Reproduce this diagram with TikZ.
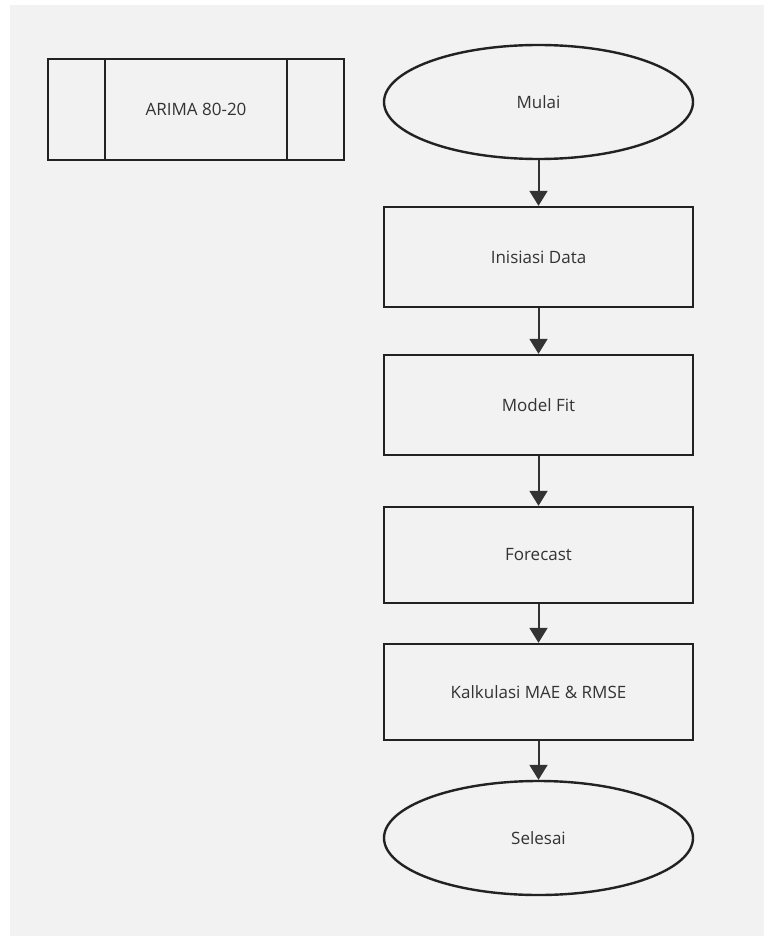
\documentclass[tikz,border=0pt]{standalone}
\usepackage{fontspec}
\setmainfont{Open Sans}
\usetikzlibrary{arrows.meta,shapes.geometric}
\definecolor{bggray}{HTML}{F2F2F2}
\definecolor{edgeblack}{HTML}{222222}
\definecolor{arrowgray}{HTML}{333333}
\tikzset{
    lab/.style={
        font=\fontsize{17}{20}\selectfont, text=arrowgray
    },
    terminal/.style={
        ellipse, draw=edgeblack, line width=2.4pt, lab,
        minimum width=309pt, minimum height=114pt, inner sep=0pt
    },
    procbox/.style={
        rectangle, draw=edgeblack, line width=2.4pt, lab,
        minimum width=309pt, inner sep=0pt
    },
    flow/.style={
        -{Triangle[width=18pt,length=15pt]}, draw=arrowgray, line width=2pt
    }
}

\begin{document}
\begin{tikzpicture}[x=1pt,y=-1pt, line cap=butt, line join=miter]

\useasboundingbox (0,0) rectangle (763,936);
\fill[white] (0,0) rectangle (763,936);
\fill[bggray] (10,5) rectangle (775,950);

\def\xC{538.5}

% predefined process, top left
\node[procbox, minimum width=296pt, minimum height=101pt] (arima) at (196,109.5) {ARIMA 80-20};
\draw[edgeblack, line width=2.4pt] ([xshift=58pt]arima.north west) -- ([xshift=58pt]arima.south west);
\draw[edgeblack, line width=2.4pt] ([xshift=-58pt]arima.north east) -- ([xshift=-58pt]arima.south east);

% main flow
\node[terminal] (mulai) at (\xC,102) {Mulai};
\node[procbox, minimum height=100pt] (inisiasi) at (\xC,257) {Inisiasi Data};
\node[procbox, minimum height=100pt] (fit) at (\xC,405) {Model Fit};
\node[procbox, minimum height=96pt] (forecast) at (\xC,555) {Forecast};
\node[procbox, minimum height=96pt] (kalkulasi) at (\xC,692) {Kalkulasi MAE \& RMSE};
\node[terminal] (selesai) at (\xC,838) {Selesai};

\foreach \a/\b in {mulai/inisiasi, inisiasi/fit, fit/forecast, forecast/kalkulasi, kalkulasi/selesai} {
  \draw[flow] (\a.south) -- (\b.north);
}

\end{tikzpicture}
\end{document}
